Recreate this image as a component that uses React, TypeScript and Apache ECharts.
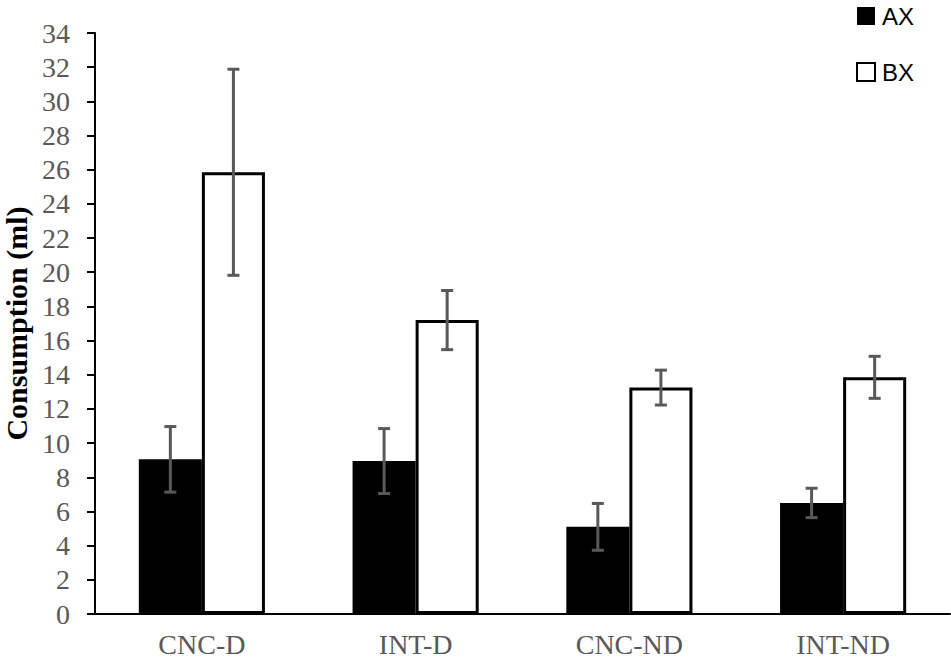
import React, { useEffect, useRef } from "react";
import * as echarts from "echarts";

const categories = ["CNC-D", "INT-D", "CNC-ND", "INT-ND"];
const axValues = [9.05, 8.95, 5.1, 6.5];
const axErrors = [1.92, 1.9, 1.37, 0.86];
const bxValues = [25.85, 17.2, 13.25, 13.85];
const bxErrors = [6.03, 1.73, 1.02, 1.23];

const BAR_FRAC = 0.295;

export default function App() {
  const ref = useRef<HTMLDivElement>(null);
  useEffect(() => {
    const chart = echarts.init(ref.current!, null, { renderer: "svg" });
    const errData = (vals: number[], errs: number[]) =>
      vals.map((v, i) => [i, v - errs[i], v + errs[i]]);
    const makeErr = (name: string, side: number, vals: number[], errs: number[]) => ({
      type: "custom",
      name: name,
      z: 10,
      silent: true,
      data: errData(vals, errs),
      renderItem: (params: any, api: any) => {
        const i = api.value(0);
        const lo = api.coord([i, api.value(1)]);
        const hi = api.coord([i, api.value(2)]);
        const bw = api.size([1, 0])[0] * BAR_FRAC;
        const x = lo[0] + (side * bw) / 2;
        const cap = 6;
        const style = { stroke: "#595959", lineWidth: 3 };
        return {
          type: "group",
          children: [
            { type: "line", shape: { x1: x, y1: lo[1], x2: x, y2: hi[1] }, style },
            { type: "line", shape: { x1: x - cap, y1: hi[1], x2: x + cap, y2: hi[1] }, style },
            { type: "line", shape: { x1: x - cap, y1: lo[1], x2: x + cap, y2: lo[1] }, style },
          ],
        };
      },
    });
    chart.setOption({
      animation: false,
      backgroundColor: "#ffffff",
      grid: {
        left: 95,
        right: 1,
        top: 33,
        bottom: 51,
        containLabel: false,
        outerBoundsMode: "none",
      },
      legend: {
        data: ["AX", "BX"],
        orient: "vertical",
        left: 856,
        top: 4,
        padding: 0,
        itemWidth: 18,
        itemHeight: 18,
        itemGap: 32,
        icon: "rect",
        textStyle: { fontFamily: "Liberation Sans", fontSize: 24, color: "#000000", padding: [0, 0, 0, 2] },
      },
      xAxis: {
        type: "category",
        data: categories,
        axisLine: { lineStyle: { color: "#000000", width: 2 } },
        axisTick: { show: false },
        axisLabel: {
          fontFamily: "Liberation Serif",
          fontSize: 28,
          color: "#595959",
          margin: 16,
        },
      },
      yAxis: {
        type: "value",
        min: 0,
        max: 34,
        interval: 2,
        name: "Consumption (ml)",
        nameLocation: "middle",
        nameGap: 57,
        nameTextStyle: {
          fontFamily: "Liberation Serif",
          fontSize: 30,
          lineHeight: 28,
          fontWeight: "bold",
          color: "#000000",
        },
        axisLine: { show: true, lineStyle: { color: "#000000", width: 2 } },
        axisTick: { show: true, length: 8, lineStyle: { color: "#000000", width: 2 } },
        axisLabel: {
          fontFamily: "Liberation Serif",
          fontSize: 28,
          color: "#595959",
          margin: 25,
        },
        splitLine: { show: false },
      },
      series: [
        {
          type: "bar",
          name: "AX",
          data: axValues,
          barWidth: BAR_FRAC * 100 + "%",
          barGap: "0%",
          itemStyle: { color: "#000000" },
        },
        {
          type: "bar",
          name: "BX",
          data: bxValues,
          barWidth: BAR_FRAC * 100 + "%",
          barGap: "0%",
          itemStyle: { color: "#ffffff", borderColor: "#000000", borderWidth: 3 },
        },
        makeErr("AXerr", -1, axValues, axErrors),
        makeErr("BXerr", 1, bxValues, bxErrors),
      ],
    });
    return () => chart.dispose();
  }, []);
  return (
    <div
      ref={ref}
      style={{ position: "fixed", left: 0, top: 0, width: 951, height: 665 }}
    />
  );
}
